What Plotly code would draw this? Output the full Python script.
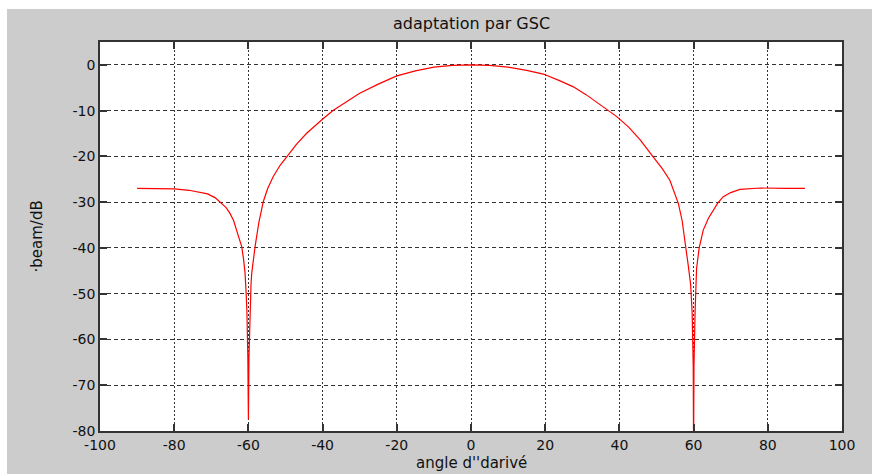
import plotly.graph_objects as go

# Data
angles_left = [-90, -85, -80, -76, -73, -71, -69, -67.7, -66, -65, -64, -63.2, -62.5, -61.8,
               -61.3, -60.9, -60.6, -60.4, -60.15, -60.0, -59.85, -59.6, -59.3, -59.1, -58.6,
               -58.2, -57.2, -56.0, -54.8, -53.3, -51.5, -49.2, -47, -44.3, -42, -39.8, -37.1,
               -34, -30, -25, -20, -15, -10, -5, 0]
beam_left = [-27, -27, -27.1, -27.4, -27.8, -28.2, -29, -29.9, -31.2, -32.4, -34, -36.1, -38, -39.7,
             -42.5, -45.5, -50, -54, -64, -77.5, -64, -54, -48, -45.5, -42,
             -39.7, -34.5, -29.9, -27, -24.4, -22, -19.7, -17.3, -14.95, -13.2, -11.7, -9.9,
             -8.2, -6.2, -4.2, -2.4, -1.3, -0.5, -0.1, 0]
angles_right = [5, 10, 15, 19.5, 24, 27.6, 31, 35, 39.3, 42.5, 45.6, 49.1, 51.5, 53.6, 55.9, 56.9,
                57.7, 58.6, 59.2, 59.6, 59.9, 60.0, 60.1, 60.4, 60.8, 61.5, 62.6, 64, 65.3, 66.5,
                68, 70, 72.5, 75, 78, 85, 90]
beam_right = [-0.1, -0.5, -1.2, -2.0, -3.5, -4.8, -6.5, -8.8, -11.3, -13.6, -16.4, -20.1, -22.6, -25.2,
              -30.3, -34, -38.3, -44.1, -48, -54, -66, -85, -66, -54, -44.5, -40, -36.1, -33.5,
              -31.7, -30.2, -28.8, -27.9, -27.2, -27, -26.9, -27, -27]

x_ticks = [-100, -80, -60, -40, -20, 0, 20, 40, 60, 80, 100]
y_ticks = [0, -10, -20, -30, -40, -50, -60, -70, -80]
x_ticklabels = [str(v) for v in x_ticks]
y_ticklabels = [str(v) for v in y_ticks]

title_text = "adaptation par GSC"
xlabel_text = "angle d''darivé"
ylabel_text = "·beam/dB"

angles = angles_left + angles_right
beam = beam_left + beam_right

W, H = 872, 474
L, R, T, B = 100, 842, 42, 431

fig = go.Figure()
fig.add_trace(go.Scatter(x=angles, y=beam, mode="lines",
                         line=dict(color="#ff0000", width=1.2), showlegend=False))

fam = "DejaVu Sans, Arial, sans-serif"
tick_font = dict(family=fam, size=14, color="#111111")
label_font = dict(family=fam, size=15, color="#111111")
title_font = dict(family=fam, size=16, color="#111111")

axis_common = dict(
    showline=True, linecolor="#333333", linewidth=1.5, mirror="ticks",
    ticks="inside", ticklen=7, tickcolor="#333333", tickwidth=1.5,
    showgrid=True, gridcolor="#333333", gridwidth=1, zeroline=False,
    tickfont=tick_font,
)

fig.update_xaxes(range=[-100, 100], tickvals=x_ticks, ticktext=x_ticklabels,
                 griddash="2px,2px", **axis_common)
fig.update_yaxes(range=[-80, 5], tickvals=y_ticks, ticktext=y_ticklabels,
                 griddash="4px,3px", **axis_common)

def px_x(p):
    return (p - L) / (R - L)

def px_y(p):
    return (B - p) / (B - T)

fig.update_layout(
    width=W, height=H,
    margin=dict(l=L, r=W - R, t=T, b=H - B, autoexpand=False),
    paper_bgcolor="#cccccc", plot_bgcolor="#ffffff",
    font=tick_font,
    shapes=[
        dict(type="rect", xref="paper", yref="paper", x0=px_x(-5), x1=px_x(W + 5), y0=px_y(9), y1=px_y(-5),
             fillcolor="#ffffff", line=dict(width=0), layer="above"),
        dict(type="rect", xref="paper", yref="paper", x0=px_x(-5), x1=px_x(7), y0=px_y(H + 5), y1=px_y(-5),
             fillcolor="#ffffff", line=dict(width=0), layer="above"),
    ],
    annotations=[
        dict(text=title_text, xref="paper", yref="paper", x=0.5, y=px_y(23),
             xanchor="center", yanchor="middle", showarrow=False, font=title_font),
        dict(text=xlabel_text, xref="paper", yref="paper", x=0.5, y=px_y(463),
             xanchor="center", yanchor="middle", showarrow=False, font=label_font),
        dict(text=ylabel_text, xref="paper", yref="paper", x=px_x(36), y=0.5,
             xanchor="center", yanchor="middle", showarrow=False, textangle=-90, font=label_font),
    ],
)

fig.write_html("out.html")
